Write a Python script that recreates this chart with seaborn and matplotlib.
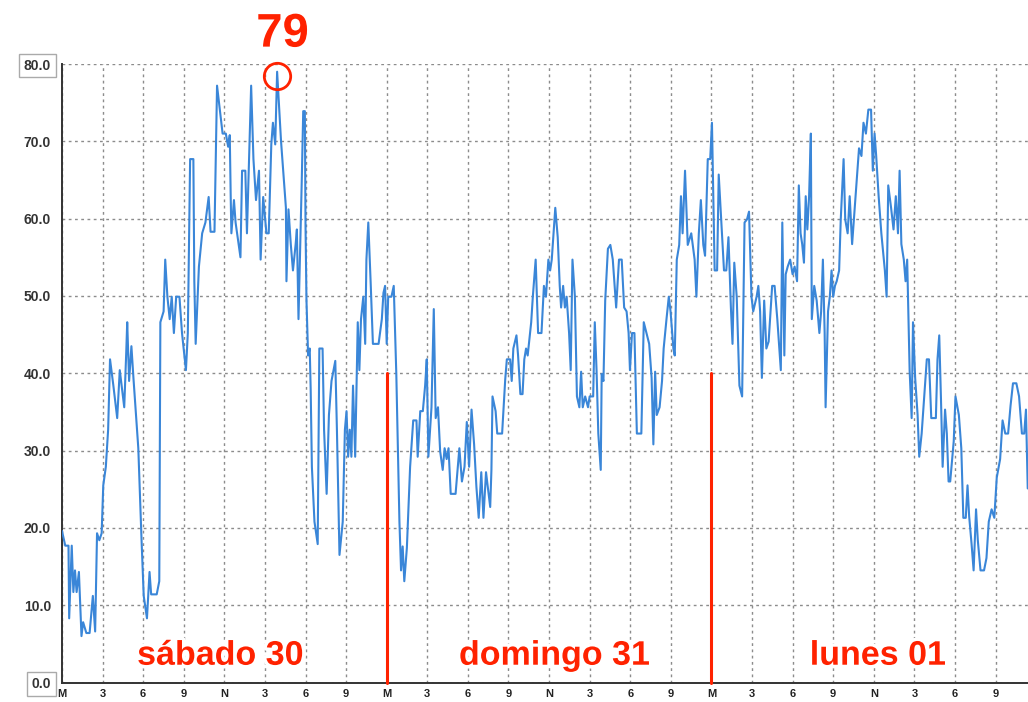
import numpy as np
import pandas as pd
import seaborn as sns
import matplotlib
matplotlib.use("Agg")
import matplotlib.pyplot as plt
import matplotlib.patheffects as pe
from matplotlib.ticker import MultipleLocator, FixedLocator

# hours since saturday 00:00 and values
hours = [
    0.00, 0.24, 0.48, 0.53, 0.72, 0.84, 0.96, 1.08, 1.25, 1.44, 1.56, 1.80, 2.04, 2.28, 2.45, 2.59,
    2.76, 2.93, 3.05, 3.24, 3.41, 3.55, 3.79, 4.08, 4.27, 4.60, 4.75, 4.82, 4.96, 5.13, 5.28, 5.64,
    5.88, 6.04, 6.28, 6.47, 6.59, 7.00, 7.19, 7.27, 7.51, 7.63, 7.79, 7.96, 8.11, 8.27, 8.44, 8.68,
    8.87, 9.16, 9.30, 9.47, 9.71, 9.78, 9.88, 10.12, 10.36, 10.60, 10.84, 10.98, 11.27, 11.46, 11.87,
    12.11, 12.28, 12.40, 12.47, 12.52, 12.71, 12.83, 13.19, 13.31, 13.55, 13.67, 13.98, 14.15, 14.34,
    14.56, 14.68, 14.87, 15.11, 15.28, 15.47, 15.59, 15.76, 15.90, 16.19, 16.55, 16.59, 16.74, 16.91,
    17.07, 17.27,
    17.36, 17.48, 17.60, 17.72, 17.83, 17.95, 18.00, 18.07, 18.19, 18.31, 18.38, 18.47, 18.66, 18.90,
    19.02, 19.26, 19.37, 19.56, 19.73, 19.92, 20.20, 20.32, 20.51, 20.75, 20.91, 21.03, 21.15, 21.27,
    21.39, 21.51, 21.67, 21.86, 21.98, 22.10, 22.27, 22.41, 22.50, 22.64, 22.81, 22.98, 23.40, 23.64,
    23.76, 23.88, 24.00, 24.11, 24.35, 24.52, 24.71, 24.94, 25.06, 25.18, 25.30, 25.49, 25.73, 25.96,
    26.20, 26.29, 26.48, 26.67, 26.84, 26.96, 27.08, 27.31, 27.48, 27.62, 27.79, 27.95, 28.14, 28.28,
    28.43, 28.57, 28.73, 29.09, 29.37, 29.56, 29.75, 29.92, 30.09, 30.27, 30.46, 30.63, 30.80, 30.99,
    31.15, 31.34, 31.46, 31.65, 31.74, 31.82, 32.05, 32.17, 32.53, 32.76, 32.88, 33.12, 33.24, 33.36,
    33.59, 33.71, 33.88,
    34.04, 34.17, 34.30, 34.42, 34.68, 34.80, 35.01, 35.19, 35.44, 35.62, 35.77, 35.95, 36.08, 36.20,
    36.33, 36.46, 36.64, 36.79, 36.89, 37.04, 37.17, 37.30, 37.48, 37.60, 37.73, 37.91, 38.06, 38.24,
    38.37, 38.49, 38.67, 38.88, 39.00, 39.26, 39.38, 39.51, 39.64, 39.82, 39.89, 40.02, 40.15, 40.35,
    40.53, 40.71, 40.96, 41.17, 41.37, 41.55, 41.73, 41.88, 41.98, 42.13, 42.31, 42.49, 42.82, 43.00,
    43.20, 43.40, 43.58, 43.71, 43.84, 43.96, 44.17, 44.35, 44.47, 44.68, 44.85, 44.98, 45.19, 45.29,
    45.44, 45.62, 45.75, 45.87, 46.05, 46.25, 46.51, 46.76, 46.89, 47.07, 47.22, 47.40, 47.53, 47.73,
    47.91, 48.04, 48.24, 48.42, 48.54, 48.72, 48.93, 49.10, 49.26, 49.44, 49.56, 49.69, 49.87, 50.07,
    50.27, 50.45, 50.63, 50.78, 50.96, 51.09, 51.34, 51.47, 51.60, 51.73, 51.90, 52.06, 52.23, 52.49,
    52.67, 52.87,
    53.13, 53.24, 53.39, 53.49, 53.64, 53.82, 54.00, 54.15, 54.33, 54.46, 54.59, 54.71, 54.84, 54.97,
    55.09, 55.22, 55.35, 55.42, 55.60, 55.78, 55.98, 56.11, 56.24, 56.37, 56.44, 56.62, 56.75, 56.88,
    57.00, 57.13, 57.26, 57.44, 57.56, 57.77, 57.89, 58.07, 58.22, 58.40, 58.53, 58.73, 58.91, 59.09,
    59.24, 59.42, 59.60, 59.80, 59.93, 60.06, 60.18, 60.36, 60.56, 60.82, 60.95, 61.07, 61.28, 61.46,
    61.63, 61.79, 61.91, 62.04, 62.22, 62.35, 62.47, 62.65, 62.80, 62.90, 63.06, 63.24, 63.36, 63.54,
    63.75, 63.92, 64.08, 64.25, 64.59, 64.71, 64.84, 64.97, 65.09, 65.27, 65.40, 65.53, 65.65, 65.91,
    66.04, 66.29, 66.47, 66.62, 66.80, 66.93, 67.05, 67.23, 67.38, 67.56, 67.69, 67.89, 68.15, 68.33,
    68.50, 68.71, 68.91, 69.09, 69.34, 69.52, 69.72, 69.93, 70.11, 70.29, 70.54, 70.74, 70.95, 71.12,
    71.25, 71.38,
]
values = [
    19.6, 17.7, 17.7, 8.3, 17.7, 11.7, 14.5, 11.7, 14.3, 6.0, 7.8, 6.4, 6.4, 11.2, 6.6, 19.3,
    18.4, 19.3, 25.5, 27.9, 32.7, 41.8, 38.5, 34.2, 40.4, 35.6, 42.8, 46.6, 39.0, 43.5, 39.4, 30.3,
    18.4, 11.2, 8.3, 14.3, 11.4, 11.4, 13.1, 46.6, 48.0, 54.7, 49.9, 47.0, 49.9, 45.2, 49.9, 49.9,
    45.2, 40.4, 45.2, 67.7, 67.7, 51.9, 43.8, 53.8, 58.1, 59.5, 62.8, 58.3, 58.3, 77.2, 71.0,
    71.0, 69.3, 70.8, 62.8, 58.1, 62.4, 59.5, 55.0, 66.2, 66.2, 58.1, 77.2, 67.7, 62.4,
    66.2, 54.7, 62.8, 58.1, 58.1, 69.6, 72.4, 69.6, 79.0, 70.0, 61.4, 51.9, 61.2, 56.7,
    53.3, 56.7,
    58.6, 47.0, 55.7, 64.8, 73.9, 73.9, 59.0, 49.4, 42.3, 43.2, 38.0, 27.9, 20.8, 17.9,
    43.2, 43.2, 32.7, 24.4, 34.6, 39.0, 41.6, 32.7, 16.5, 20.8, 32.7, 35.1, 29.2, 32.7,
    29.2, 38.4, 29.2, 46.6, 40.4, 47.0, 49.9, 43.8, 54.7, 59.5, 51.9, 43.8, 43.8, 47.0,
    50.4, 51.3, 43.8, 49.9, 49.9, 51.3, 39.9, 20.8, 14.5, 17.6, 13.1, 17.4, 27.9, 33.9,
    33.9, 29.2, 35.1, 35.1, 38.4, 41.8, 29.2, 35.6, 48.3, 34.2, 35.6, 29.9, 27.5, 30.3,
    28.9, 30.3, 24.4, 24.4, 30.3, 26.0, 27.9, 33.7, 27.9, 35.3, 30.8, 25.3, 21.3, 27.2,
    21.3, 27.2, 25.5, 22.7, 27.5, 37.0, 35.1, 32.2, 32.2, 39.2, 41.8, 41.8, 39.0, 43.2,
    44.9, 42.3, 37.3,
    37.3, 41.8, 43.2, 42.3, 46.6, 49.9, 54.7, 45.2, 45.2, 51.3, 49.9, 54.7, 53.3, 54.7,
    58.1, 61.4, 57.6, 51.3, 48.5, 51.3, 48.5, 49.9, 45.2, 40.4, 54.7, 49.9, 37.0, 35.6,
    40.2, 35.6, 37.0, 35.6, 37.0, 37.0, 46.6, 40.4, 32.2, 27.5, 39.9, 39.0, 49.4, 56.1,
    56.6, 54.7, 48.5, 54.7, 54.7, 48.5, 48.0, 45.2, 40.4, 45.2, 45.2, 32.2, 32.2, 46.6,
    45.2, 43.8, 39.4, 30.8, 40.2, 34.6, 35.6, 39.0, 43.2, 47.0, 49.9, 48.0, 43.2, 42.3,
    54.7, 56.6, 62.9, 58.1, 66.2, 56.6, 58.1, 54.7, 49.9, 58.1, 62.4, 56.6, 55.2, 67.7,
    67.7, 72.4, 53.3, 53.3, 65.7, 59.9, 53.3, 53.3, 57.6, 48.5, 43.8, 54.3, 49.9, 38.4,
    37.0, 59.5, 59.9, 60.9, 49.9, 48.0, 49.9, 51.3, 48.0, 39.4, 49.4, 43.2, 44.1, 51.3,
    51.3, 47.0,
    40.4, 59.5, 42.3, 52.8, 53.8, 54.7, 52.8, 53.8, 51.9, 64.3, 58.1, 56.7, 54.3, 62.9,
    58.6, 62.9, 71.0, 47.0, 51.3, 49.4, 45.2, 48.0, 54.7, 45.2, 35.6, 48.0, 49.9, 53.3,
    49.9, 51.3, 51.9, 53.3, 59.9, 67.7, 59.9, 58.1, 62.9, 56.7, 59.9, 64.8, 69.1, 68.1,
    72.4, 71.0, 74.1, 74.1, 66.2, 71.0, 68.1, 62.9, 58.1, 53.3, 49.9, 64.3, 61.4, 58.6,
    62.9, 58.1, 66.2, 56.7, 54.7, 51.9, 54.7, 40.4, 34.2, 46.6, 39.4, 34.6, 29.2, 32.2,
    37.5, 41.8, 41.8, 34.2, 34.2, 41.8, 44.9, 36.5, 27.9, 35.3, 32.2, 26.0, 26.0, 31.2,
    37.0, 34.6, 30.3, 21.3, 21.3, 25.5, 21.5, 17.9, 14.5, 22.4, 18.4, 14.5, 14.5, 16.1,
    20.8, 22.4, 21.3, 26.5, 28.9, 33.9, 32.2, 32.2, 35.8, 38.7, 38.7, 37.0, 32.2, 32.2,
    35.3, 25.1,
]

day_labels = ["sábado 30", "domingo 31", "lunes 01"]
day_label_hours = [11.7, 36.4, 60.3]
day_breaks = [24, 48]
tick_names = ["M", "3", "6", "9", "N", "3", "6", "9"]
peak_label = "79"

df = pd.DataFrame({"hora": hours, "valor": values})

sns.set_style("white")
plt.rcParams["font.family"] = ["Liberation Sans", "DejaVu Sans"]

RED = "#ff2200"
BLUE = "#3a86d8"

fig = plt.figure(figsize=(10.28, 7.02), dpi=100)
ax = fig.add_axes([62 / 1028, 19.5 / 702, 966 / 1028, 618.5 / 702])

sns.lineplot(data=df, x="hora", y="valor", ax=ax, color=BLUE, lw=1.5,
             estimator=None, sort=False, zorder=3)

ax.set_xlim(0, 71.4)
ax.set_ylim(0, 80)
ax.set_xlabel("")
ax.set_ylabel("")

# ticks and grid
xt = np.arange(0, 70, 3)
ax.xaxis.set_major_locator(FixedLocator(xt))
ax.xaxis.set_minor_locator(MultipleLocator(1))
ax.set_xticklabels([tick_names[i % 8] for i in range(len(xt))])
ax.yaxis.set_major_locator(MultipleLocator(10))
ax.yaxis.set_minor_locator(MultipleLocator(2.5))
ax.set_yticklabels([f"{v:.1f}" for v in ax.get_yticks()])
ax.grid(True, which="major", color="#8c8c8c", linestyle=(0, (2, 2.5)), lw=1)
ax.tick_params(axis="y", which="major", direction="out", length=6, width=1.2,
               color="#333333", labelsize=10, labelcolor="#333333", pad=2)
ax.tick_params(axis="y", which="minor", direction="inout", length=5, width=1,
               color="#333333")
ax.tick_params(axis="x", which="major", direction="out", length=3.5, width=1,
               color="#333333", labelsize=8, labelcolor="#222222", pad=1)
ax.tick_params(axis="x", which="minor", direction="out", length=2.5, width=1,
               color="#333333")
for lab in ax.get_yticklabels() + ax.get_xticklabels():
    lab.set_fontweight("bold")
for lab in ax.get_yticklabels():
    if lab.get_text() in ("80.0", "0.0"):
        lab.set_bbox(dict(boxstyle="square,pad=0.35", fc="white", ec="#aaaaaa", lw=1))

for side in ["top", "right"]:
    ax.spines[side].set_visible(False)
for side in ["left", "bottom"]:
    ax.spines[side].set_color("#333333")
    ax.spines[side].set_linewidth(1.4)

# day separators
for d in day_breaks:
    ax.plot([d, d], [0, 40], color=RED, lw=2.2, zorder=4, clip_on=False)

glow = [pe.SimplePatchShadow(offset=(1, -1.5), shadow_rgbFace="#888888", alpha=0.35),
        pe.Stroke(linewidth=5, foreground="white"), pe.Normal()]

for lbl, h in zip(day_labels, day_label_hours):
    ax.text(h, 3.4, lbl, color=RED, fontsize=24.5, fontweight="bold",
            ha="center", va="center", path_effects=glow, zorder=5)

# peak marker
peak_i = int(np.argmax(values))
ax.plot(hours[peak_i], 78.5, marker="o", ms=19, mfc="none", mec=RED, mew=2,
        clip_on=False, zorder=5)
ax.text(hours[peak_i] + 0.4, 83.8, peak_label, color=RED, fontsize=34,
        fontweight="bold", ha="center", va="center", path_effects=glow,
        clip_on=False, zorder=5)

fig.savefig("out.png", dpi=100)
